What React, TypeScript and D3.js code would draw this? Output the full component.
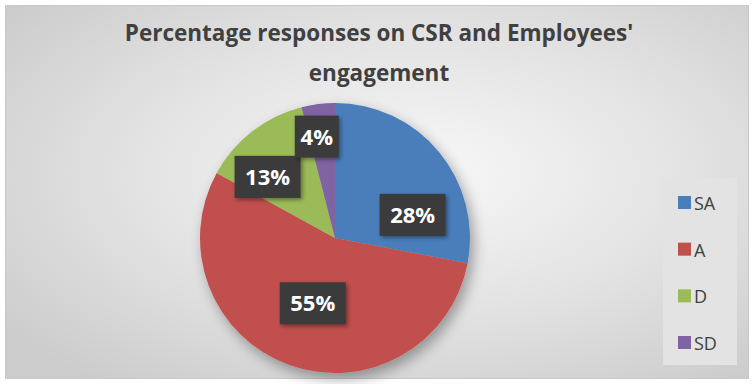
import * as d3 from 'd3';

const categories = ['SA', 'A', 'D', 'SD'];
const shares = [28, 55, 13, 4];
const colors = ['#4a7ebb', '#c0504d', '#9bbb59', '#8064a2'];
const titleLines = ['Percentage responses on CSR and Employees\'', 'engagement'];

// label placement (Excel "best fit" look)
const labelRadius = [81, 69, 91, 103];
const labelTurn = [23, -1, -10, -3];

const W = 753, H = 384;
const cx = 335, cy = 238, R = 135;

export default function App() {
  const pie = d3.pie<number>().sort(null).value(d => d);
  const arcs = pie(shares);
  const arc = d3.arc<d3.PieArcDatum<number>>().innerRadius(0).outerRadius(R);
  const legendY = d3.scalePoint<string>().domain(categories).range([203, 343]);

  return (
    <svg width={W} height={H} style={{ position: 'absolute', left: 0, top: 0, fontFamily: 'Open Sans, sans-serif' }}>
      <defs>
        <radialGradient id="bg" cx="0.55" cy="0.45" r="0.7">
          <stop offset="0" stopColor="#f8f8f8" />
          <stop offset="0.55" stopColor="#e2e2e2" />
          <stop offset="1" stopColor="#cccccc" />
        </radialGradient>
        <filter id="pieShadow" x="-20%" y="-20%" width="140%" height="140%">
          <feGaussianBlur in="SourceAlpha" stdDeviation="7" />
          <feOffset dx="4" dy="6" result="b" />
          <feComponentTransfer><feFuncA type="linear" slope="0.35" /></feComponentTransfer>
          <feMerge><feMergeNode /><feMergeNode in="SourceGraphic" /></feMerge>
        </filter>
        <filter id="boxShadow" x="-20%" y="-20%" width="150%" height="150%">
          <feGaussianBlur in="SourceAlpha" stdDeviation="2" />
          <feOffset dx="2" dy="2" />
          <feComponentTransfer><feFuncA type="linear" slope="0.4" /></feComponentTransfer>
          <feMerge><feMergeNode /><feMergeNode in="SourceGraphic" /></feMerge>
        </filter>
      </defs>
      <rect x={0} y={0} width={W} height={H} fill="#ffffff" />
      <rect x={5.5} y={5.5} width={743} height={373} fill="url(#bg)" stroke="#c8c8c8" />

      {titleLines.map((t, i) => (
        <text key={t} x={379} y={41 + i * 40} textAnchor="middle" fontSize={22.5} fontWeight="bold" fill="#404040">{t}</text>
      ))}

      <g transform={`translate(${cx},${cy})`}>
        <g filter="url(#pieShadow)">
          {arcs.map((a, i) => (
            <path key={categories[i]} d={arc(a) ?? ''} fill={colors[i]} />
          ))}
        </g>
        {arcs.map((a, i) => {
          const mid = (a.startAngle + a.endAngle) / 2 + (labelTurn[i] * Math.PI) / 180;
          const x = Math.sin(mid) * labelRadius[i];
          const y = -Math.cos(mid) * labelRadius[i];
          const txt = `${shares[i]}%`;
          const bw = txt.length > 2 ? 66 : 44;
          return (
            <g key={txt} transform={`translate(${x},${y})`}>
              <rect x={-bw / 2} y={-21} width={bw} height={42} fill="#3a3a3a" filter="url(#boxShadow)" />
              <text x={0} y={8} textAnchor="middle" fontSize={22} fontWeight="bold" fill="#ffffff">{txt}</text>
            </g>
          );
        })}
      </g>

      <rect x={663} y={178} width={74} height={187} fill="#e3e3e3" />
      {categories.map((c, i) => (
        <g key={c} transform={`translate(678,${legendY(c)})`}>
          <rect x={0} y={-7} width={13} height={13} fill={colors[i]} />
          <text x={16} y={7} fontSize={18} fill="#404040">{c}</text>
        </g>
      ))}
    </svg>
  );
}
